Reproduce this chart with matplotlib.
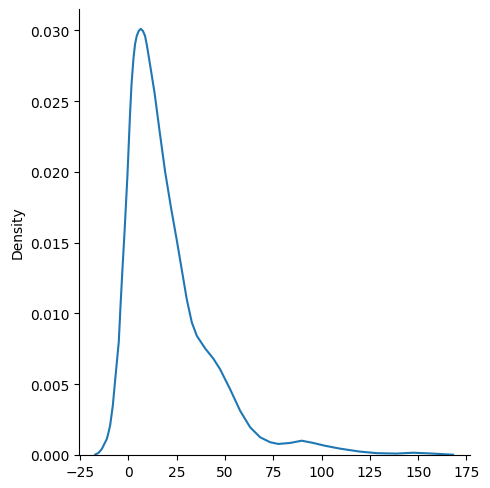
import matplotlib
matplotlib.use("Agg")
import matplotlib.pyplot as plt

x_vals = [-17.2, -15.5, -13.8, -11.2, -10.3, -9.5, -8.1, -6.5, -5.0, -4.1, -3.1, -2.0,
          -0.5, 0.8, 1.6, 2.6, 3.4, 4.3, 5.3, 6.4, 7.5, 8.6, 9.6, 10.8, 13.5, 16.2, 19.0,
          22.0, 25.0, 27.6, 30.2, 32.8, 35.4, 39.7, 44.0, 47.4, 52.6, 57.8, 63.0, 68.2,
          73.4, 77.6, 83.7, 89.7, 95.7, 101.5, 109.5, 119.8, 128.5, 138.8, 147.4, 156.1,
          168.1]
density = [0.00003, 0.00015, 0.00042, 0.00113, 0.0016, 0.00207, 0.00348, 0.00584, 0.0080,
           0.01054, 0.01313, 0.0158, 0.0198, 0.0240, 0.0262, 0.0280, 0.0290, 0.0296,
           0.02995, 0.0301, 0.02995, 0.0296, 0.0289, 0.0279, 0.0256, 0.0228, 0.0200,
           0.0175, 0.0152, 0.0131, 0.0110, 0.00937, 0.00842, 0.00753, 0.0068, 0.00607,
           0.00466, 0.00313, 0.00196, 0.00125, 0.0009, 0.00078, 0.00085, 0.00101, 0.00085,
           0.00066, 0.00045, 0.00024, 0.00013, 0.00010, 0.00016, 0.00011, 0.00002]
x_ticks = [-25, 0, 25, 50, 75, 100, 125, 150, 175]
y_ticks = [0.000, 0.005, 0.010, 0.015, 0.020, 0.025, 0.030]

fig = plt.figure(figsize=(4.9, 4.89), dpi=100)
ax = fig.add_axes([0.162, 0.0675, 0.797, 0.912])
ax.plot(x_vals, density, color="#1f77b4", lw=1.5, solid_joinstyle="round")
ax.set_xlim(-25.4, 176.8)
ax.set_ylim(0, 0.0315)
ax.set_xticks(x_ticks)
ax.set_yticks(y_ticks)
ax.set_yticklabels([f"{v:.3f}" for v in y_ticks])
ax.set_ylabel("Density")
ax.spines["top"].set_visible(False)
ax.spines["right"].set_visible(False)
fig.savefig("out.png", dpi=100)
